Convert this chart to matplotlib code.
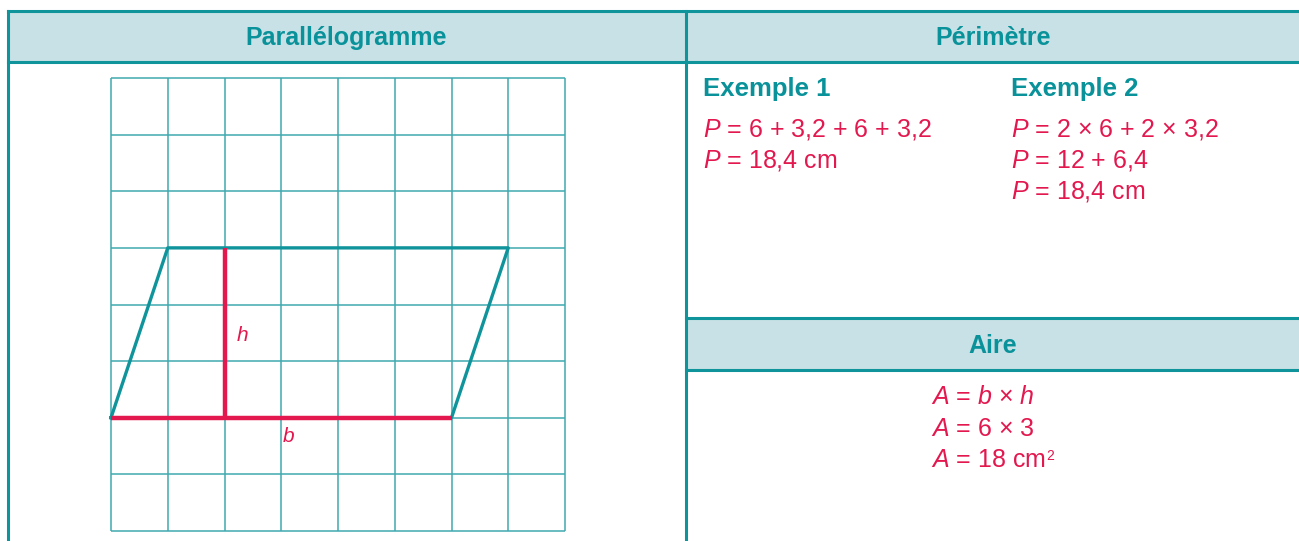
import matplotlib
matplotlib.use("Agg")
import matplotlib.pyplot as plt
from matplotlib.patches import Rectangle

# ---- data ----
headers = ["Parallélogramme", "Périmètre", "Aire"]
example_titles = ["Exemple 1", "Exemple 2"]
example1_lines = ["$P$ = 6 + 3,2 + 6 + 3,2", "$P$ = 18,4 cm"]
example2_lines = ["$P$ = 2 × 6 + 2 × 3,2", "$P$ = 12 + 6,4", "$P$ = 18,4 cm"]
area_lines = ["$A$ = $b$ × $h$", "$A$ = 6 × 3", "$A$ = 18 cm"]
area_sup = "2"
grid_cols = 8
grid_rows = 8
para_x = [0, 6, 7, 1, 0]
para_y = [2, 2, 5, 5, 2]
base_x = [0, 6]
base_y = [2, 2]
height_x = [2, 2]
height_y = [2, 5]

TEAL = "#10949c"
FILL = "#c7e1e6"
HEAD_TXT = "#0a929a"
RED = "#e2184f"
GRID = "#3fa9b0"

fam = "Liberation Sans"
plt.rcParams["font.family"] = [fam, "DejaVu Sans"]
plt.rcParams["mathtext.fontset"] = "custom"
plt.rcParams["mathtext.rm"] = fam
plt.rcParams["mathtext.it"] = fam + ":italic"
plt.rcParams["mathtext.bf"] = fam + ":bold"

W, H = 1299, 541
fig = plt.figure(figsize=(W / 100, H / 100), dpi=100)
ax = fig.add_axes([0, 0, 1, 1])
ax.set_xlim(0, W)
ax.set_ylim(H, 0)
ax.axis("off")

lw_border = 2.2
# header fills
ax.add_patch(Rectangle((8, 11), W, 51, facecolor=FILL, edgecolor="none"))
ax.add_patch(Rectangle((686, 318), W, 52, facecolor=FILL, edgecolor="none"))
# borders
ax.plot([8, W + 5], [11, 11], color=TEAL, lw=lw_border)
ax.plot([8, W + 5], [62, 62], color=TEAL, lw=lw_border)
ax.plot([8, 8], [11, H + 5], color=TEAL, lw=lw_border)
ax.plot([686, 686], [11, H + 5], color=TEAL, lw=lw_border)
ax.plot([686, W + 5], [318, 318], color=TEAL, lw=lw_border)
ax.plot([686, W + 5], [370, 370], color=TEAL, lw=lw_border)

hfs = 18
ax.text(346, 38, headers[0], ha="center", va="center", fontsize=hfs, fontweight="bold", color=HEAD_TXT)
ax.text(993, 38, headers[1], ha="center", va="center", fontsize=hfs, fontweight="bold", color=HEAD_TXT)
ax.text(993, 346, headers[2], ha="center", va="center", fontsize=hfs, fontweight="bold", color=HEAD_TXT)

fs = 18
ax.text(703, 89, example_titles[0], ha="left", va="center", fontsize=18.5, fontweight="bold", color=HEAD_TXT)
ax.text(1011, 89, example_titles[1], ha="left", va="center", fontsize=18.5, fontweight="bold", color=HEAD_TXT)
for i, s in enumerate(example1_lines):
    ax.text(703, 130 + 30.5 * i, s, ha="left", va="center", fontsize=fs, color=RED)
for i, s in enumerate(example2_lines):
    ax.text(1011, 130 + 30.5 * i, s, ha="left", va="center", fontsize=fs, color=RED)
for i, s in enumerate(area_lines):
    t = ax.text(931, 397 + 31.5 * i, s, ha="left", va="center", fontsize=fs, color=RED)
# superscript on the last area line
fig.canvas.draw()
bb = t.get_window_extent()
ax.annotate(area_sup, xy=(bb.x1, bb.y1), xycoords="figure pixels",
            xytext=(0.5, -1), textcoords="offset points",
            fontsize=10, color=RED, ha="left", va="top")

# grid axes
gx0, gx1, gy0, gy1 = 111, 565, 78, 531
gax = fig.add_axes([gx0 / W, (H - gy1) / H, (gx1 - gx0) / W, (gy1 - gy0) / H])
gax.set_xlim(0, grid_cols)
gax.set_ylim(0, grid_rows)
gax.axis("off")
for c in range(grid_cols + 1):
    gax.plot([c, c], [0, grid_rows], color=GRID, lw=1.1, solid_capstyle="butt", clip_on=False)
for r in range(grid_rows + 1):
    gax.plot([0, grid_cols], [r, r], color=GRID, lw=1.1, solid_capstyle="butt", clip_on=False)
gax.plot(para_x, para_y, color=TEAL, lw=2.4, clip_on=False)
gax.plot(base_x, base_y, color=RED, lw=3.2, clip_on=False, solid_capstyle="butt")
gax.plot(height_x, height_y, color=RED, lw=3.2, clip_on=False, solid_capstyle="butt")
gax.text(2.2, 3.45, "$h$", fontsize=15, color=RED, ha="left", va="center")
gax.text(3.02, 1.67, "$b$", fontsize=15, color=RED, ha="left", va="center")

fig.savefig("out.png", dpi=100)
